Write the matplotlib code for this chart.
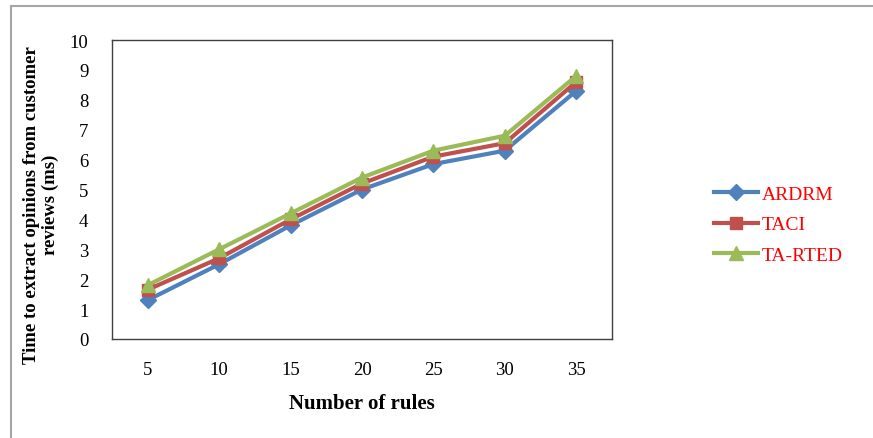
import matplotlib
matplotlib.use("Agg")
import matplotlib.pyplot as plt
from matplotlib.patches import Rectangle

# data
rules = [5, 10, 15, 20, 25, 30, 35]
ardrm = [1.3, 2.5, 3.8, 5.0, 5.85, 6.3, 8.3]
taci = [1.65, 2.7, 4.0, 5.2, 6.1, 6.55, 8.6]
ta_rted = [1.8, 3.0, 4.2, 5.4, 6.3, 6.8, 8.8]

series = [
    ("ARDRM", ardrm, "#4F81BD", "D", 8),
    ("TACI", taci, "#C0504D", "s", 9),
    ("TA-RTED", ta_rted, "#9BBB59", "^", 10),
]

plt.rcParams['font.family'] = ['Liberation Serif', 'DejaVu Serif']

fig = plt.figure(figsize=(8.73, 4.39), dpi=100)
W, H = 873, 439

# outer frame of the chart area (only top and left edges are visible)
fig.patches.append(Rectangle((11 / W, -0.1), 1.2, 1.1 - 7 / H, transform=fig.transFigure,
                             fill=False, edgecolor="#A6A6A6", linewidth=1.5))

ax = fig.add_axes([112 / W, (H - 340) / H, 500 / W, 299 / H])

idx = list(range(len(rules)))
for name, vals, col, mk, ms in series:
    ax.plot(idx, vals, color=col, linewidth=3, marker=mk, markersize=ms,
            markeredgecolor=col, label=name)

ax.set_xlim(-0.5, len(rules) - 0.5)
ax.set_ylim(0, 10)
ax.set_yticks(range(0, 11))
ax.set_xticks(idx)
ax.set_xticklabels([str(r) for r in rules])
ax.tick_params(axis='both', length=0, labelsize=13.5)
ax.tick_params(axis='y', pad=17)
ax.tick_params(axis='x', pad=16)
for s in ax.spines.values():
    s.set_color("#404040")
    s.set_linewidth(1)

ax.set_xlabel("Number of rules", fontsize=15, fontweight='bold', labelpad=11)
fig.text(41 / W, 1 - 205 / H, "Time to extract opinions from customer\nreviews (ms)",
         rotation=90, ha='center', va='center', fontsize=13.5, fontweight='bold',
         linespacing=1.2)

leg = ax.legend(loc='upper left', bbox_to_anchor=(696 / W, 1 - 169 / H),
                bbox_transform=fig.transFigure, frameon=False, fontsize=14,
                labelcolor='red', handlelength=2.3, handletextpad=0.2,
                labelspacing=0.65)

fig.savefig("out.png", dpi=100)
